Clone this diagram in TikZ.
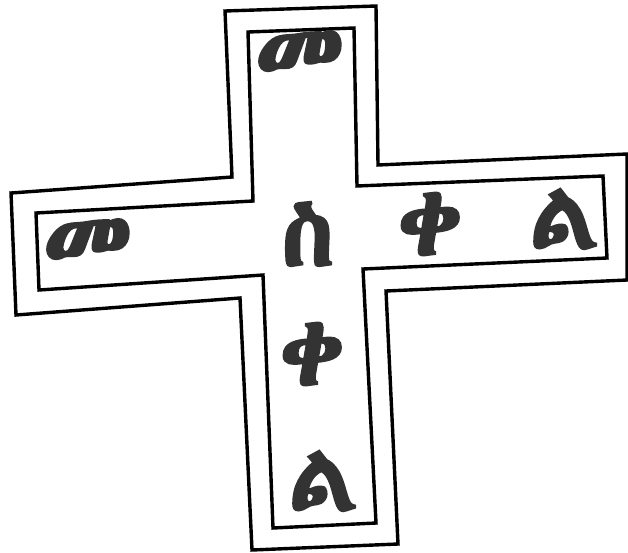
\documentclass[tikz,border=0pt]{standalone}
\usepackage{fontspec}
\IfFontExistsTF{Abyssinica SIL}{\newfontfamily\ethfont[FakeBold=3]{Abyssinica SIL}}{%
 \IfFontExistsTF{FreeSerif}{\newfontfamily\ethfont[FakeBold=3]{FreeSerif}}{%
  \IfFontExistsTF{Noto Sans Ethiopic}{\newfontfamily\ethfont{Noto Sans Ethiopic Bold}}{%
   \newfontfamily\ethfont{DejaVu Sans}}}}
\tikzset{
  outline/.style={line width=3.4pt, line join=miter, draw=black},
  glyph/.style={font=\ethfont\fontsize{94}{94}\selectfont, inner sep=0pt, text=black!80},
}
\begin{document}
\begin{tikzpicture}[x=1pt,y=-1pt]
\useasboundingbox (0,0) rectangle (628,552);
% outer outline
\draw[outline] (225,11) -- (376,6) -- (378,165) -- (627,154) -- (627,280) -- (386,291)
  -- (398,544) -- (252,550) -- (240,298) -- (16,315) -- (11,193) -- (232,177) -- cycle;
% inner outline
\draw[outline] (248,32) -- (354,28) -- (357,186) -- (603,176) -- (607,258) -- (363,269)
  -- (376,523) -- (273,528) -- (263,275) -- (39,290) -- (36,213) -- (253,201) -- cycle;
% letters
\node[glyph] (mtop)  at (299,58)  {መ};
\node[glyph] (mleft) at (87,246)  {መ};
\node[glyph] (s)     at (308,234) {ስ};
\node[glyph] (qr)    at (430,224) {ቀ};
\node[glyph] (lr)    at (565,219) {ል};
\node[glyph] (qd)    at (312,354) {ቀ};
\node[glyph] (ld)    at (324,481) {ል};
\end{tikzpicture}
\end{document}
